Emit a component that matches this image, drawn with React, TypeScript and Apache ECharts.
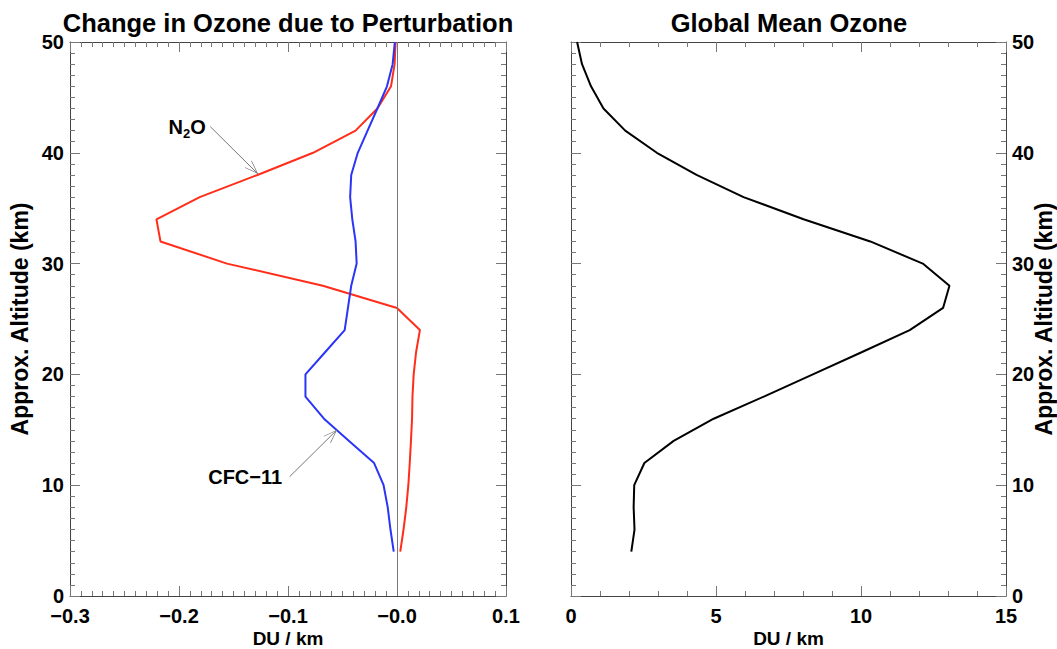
import React, { useEffect, useRef } from 'react';
import * as echarts from 'echarts';

// ---------- data ----------
const altitudes = [4, 6, 8, 10, 12, 14, 16, 18, 20, 22, 24, 26, 28, 30, 32, 34, 36, 38, 40, 42, 44, 46, 48, 50];
const n2oChange = [0.003, 0.006, 0.0085, 0.0104, 0.0117, 0.0128, 0.0138, 0.0142, 0.0153, 0.0175, 0.021, 0.0, -0.068, -0.156, -0.217, -0.2207, -0.181, -0.128, -0.077, -0.038, -0.018, -0.0055, -0.0022, -0.0013];
const cfcChange = [-0.003, -0.006, -0.0085, -0.0123, -0.021, -0.044, -0.067, -0.084, -0.084, -0.066, -0.048, -0.045, -0.042, -0.037, -0.038, -0.041, -0.043, -0.042, -0.036, -0.027, -0.018, -0.0092, -0.004, -0.002];
const globalOzone = [2.08, 2.19, 2.16, 2.18, 2.53, 3.54, 4.92, 6.65, 8.34, 10.02, 11.68, 12.83, 13.05, 12.13, 10.32, 8.02, 5.95, 4.33, 2.96, 1.87, 1.12, 0.69, 0.38, 0.21];

const leftXTickLabels = ['\u22120.3', '\u22120.2', '\u22120.1', '\u22120.0', '0.1'];
const rightXTickLabels = ['0', '5', '10', '15'];
const yTickLabels = ['0', '10', '20', '30', '40', '50'];

const titles = ['Change in Ozone due to Perturbation', 'Global Mean Ozone'];
const xName = 'DU / km';
const yName = 'Approx. Altitude (km)';

// annotation anchors (data coordinates)
const n2oArrowStart = [-0.1713, 42.36];
const n2oArrowEnd = [-0.1275, 38.09];
const cfcArrowStart = [-0.0985, 10.77];
const cfcArrowEnd = [-0.055, 15.0];

const FONT = '"Liberation Sans", Arial, Helvetica, sans-serif';
const AXIS_COLOR = '#444';
const TICK_COLOR = '#777';
const ARROW =
  'path://M0,-14L0.01,-14L0,-14Z M0,0 L-5,14 L-4.3,14.3 L0,1.9 L4.3,14.3 L5,14 Z';

const labelStyle = { fontFamily: FONT, fontWeight: 'bold' as const, fontSize: 20, color: '#000' };
const xLabelStyle = { ...labelStyle, lineHeight: 20 };
const xNameStyle = { ...labelStyle, fontSize: 19, lineHeight: 20 };
const yNameStyle = { fontFamily: FONT, fontWeight: 'bold' as const, fontSize: 23, lineHeight: 22, color: '#000' };

function baseAxis(extra: any) {
  return {
    type: 'value',
    axisLine: { show: true, onZero: false, lineStyle: { color: AXIS_COLOR, width: 1 } },
    axisTick: { show: true, inside: true, length: 10, lineStyle: { color: TICK_COLOR, width: 1 } },
    minorTick: { show: true, length: 5, lineStyle: { color: TICK_COLOR, width: 1 } },
    splitLine: { show: false },
    minorSplitLine: { show: false },
    nameMoveOverlap: false,
    ...extra,
  };
}

export default function App() {
  const ref = useRef<HTMLDivElement>(null);

  useEffect(() => {
    if (!ref.current) return;
    const chart = echarts.init(ref.current, undefined, { renderer: 'svg' });

    const leftFmt = (v: number) => leftXTickLabels[Math.round((v + 0.3) / 0.1)] ?? '';
    const rightFmt = (v: number) => rightXTickLabels[Math.round(v / 5)] ?? '';
    const yFmt = (v: number) => yTickLabels[Math.round(v / 10)] ?? '';

    const minor = (n: number) => ({ show: true, splitNumber: n, length: 5, lineStyle: { color: TICK_COLOR, width: 1 } });

    const option: any = {
      animation: false,
      backgroundColor: '#fff',
      title: [
        {
          text: titles[0],
          left: 283,
          top: 5,
          textAlign: 'center',
          textStyle: { fontFamily: FONT, fontWeight: 'bold', fontSize: 25.5, color: '#000' },
        },
        {
          text: titles[1],
          left: 784,
          top: 5,
          textAlign: 'center',
          textStyle: { fontFamily: FONT, fontWeight: 'bold', fontSize: 25.5, color: '#000' },
        },
      ],
      grid: [
        { left: 70, right: 551, top: 42, bottom: 53, containLabel: false, outerBoundsMode: 'none' },
        { left: 571, right: 51, top: 42, bottom: 53, containLabel: false, outerBoundsMode: 'none' },
      ],
      xAxis: [
        baseAxis({
          gridIndex: 0, min: -0.3, max: 0.1, interval: 0.1, position: 'bottom',
          minorTick: minor(10),
          axisLabel: { ...xLabelStyle, margin: 10, formatter: leftFmt },
          name: xName, nameLocation: 'middle', nameGap: 32,
          nameTextStyle: xNameStyle,
        }),
        baseAxis({
          gridIndex: 0, min: -0.3, max: 0.1, interval: 0.1, position: 'top',
          minorTick: minor(10),
          axisLabel: { show: false },
        }),
        baseAxis({
          gridIndex: 1, min: 0, max: 15, interval: 5, position: 'bottom',
          minorTick: minor(5),
          axisLabel: { ...xLabelStyle, margin: 10, formatter: rightFmt },
          name: xName, nameLocation: 'middle', nameGap: 32,
          nameTextStyle: xNameStyle,
        }),
        baseAxis({
          gridIndex: 1, min: 0, max: 15, interval: 5, position: 'top',
          minorTick: minor(5),
          axisLabel: { show: false },
        }),
      ],
      yAxis: [
        baseAxis({
          gridIndex: 0, min: 0, max: 50, interval: 10, position: 'left',
          minorTick: minor(10),
          axisLabel: { ...labelStyle, margin: 6, formatter: yFmt },
          name: yName, nameLocation: 'middle', nameRotate: 90, nameGap: 39,
          nameTextStyle: yNameStyle,
        }),
        baseAxis({
          gridIndex: 0, min: 0, max: 50, interval: 10, position: 'right',
          minorTick: minor(10),
          axisLabel: { show: false },
        }),
        baseAxis({
          gridIndex: 1, min: 0, max: 50, interval: 10, position: 'left',
          minorTick: minor(10),
          axisLabel: { show: false },
        }),
        baseAxis({
          gridIndex: 1, min: 0, max: 50, interval: 10, position: 'right',
          minorTick: minor(10),
          axisLabel: { ...labelStyle, margin: 6, formatter: yFmt },
          name: yName, nameLocation: 'middle', nameRotate: 90, nameGap: 27,
          nameTextStyle: yNameStyle,
        }),
      ],
      series: [
        {
          name: 'N2O',
          type: 'line',
          xAxisIndex: 0,
          yAxisIndex: 0,
          showSymbol: false,
          symbol: 'none',
          lineStyle: { color: '#ff2d1a', width: 2 },
          data: altitudes.map((a, i) => [n2oChange[i], a]),
          z: 3,
          markLine: {
            silent: true,
            symbol: ['none', 'none'],
            label: { show: false },
            lineStyle: { color: TICK_COLOR, width: 1, type: 'solid' },
            data: [
              { xAxis: 0 },
              [
                { coord: n2oArrowStart, symbol: 'none' },
                { coord: n2oArrowEnd, symbol: ARROW, symbolSize: [10, 28] },
              ],
            ],
          },
          markPoint: {
            silent: true,
            data: [
              {
                coord: n2oArrowStart,
                symbol: 'circle',
                symbolSize: 1,
                itemStyle: { color: 'transparent' },
                label: {
                  show: true,
                  position: 'left',
                  distance: 4,
                  formatter: '{a|N}{s|2}{a|O}',
                  rich: {
                    a: { fontFamily: FONT, fontWeight: 'bold', fontSize: 20, color: '#000', lineHeight: 26, verticalAlign: 'middle' },
                    s: { fontFamily: FONT, fontWeight: 'bold', fontSize: 13, color: '#000', lineHeight: 13, verticalAlign: 'bottom' },
                  },
                },
              },
            ],
          },
        },
        {
          name: 'CFC-11',
          type: 'line',
          xAxisIndex: 0,
          yAxisIndex: 0,
          showSymbol: false,
          symbol: 'none',
          lineStyle: { color: '#2b35f5', width: 2 },
          data: altitudes.map((a, i) => [cfcChange[i], a]),
          z: 3,
          markLine: {
            silent: true,
            symbol: ['none', 'none'],
            label: { show: false },
            lineStyle: { color: TICK_COLOR, width: 1, type: 'solid' },
            data: [
              [
                { coord: cfcArrowStart, symbol: 'none' },
                { coord: cfcArrowEnd, symbol: ARROW, symbolSize: [10, 28] },
              ],
            ],
          },
          markPoint: {
            silent: true,
            data: [
              {
                coord: cfcArrowStart,
                symbol: 'circle',
                symbolSize: 1,
                itemStyle: { color: 'transparent' },
                label: {
                  show: true,
                  position: 'left',
                  distance: 7,
                  formatter: 'CFC\u221211',
                  ...labelStyle,
                },
              },
            ],
          },
        },
        {
          name: 'Global Mean Ozone',
          type: 'line',
          xAxisIndex: 2,
          yAxisIndex: 2,
          showSymbol: false,
          symbol: 'none',
          lineStyle: { color: '#000', width: 2 },
          data: altitudes.map((a, i) => [globalOzone[i], a]),
        },
      ],
    };

    chart.setOption(option);
    return () => chart.dispose();
  }, []);

  return (
    <div
      ref={ref}
      style={{ position: 'fixed', left: 0, top: 0, width: 1057, height: 649, background: '#fff' }}
    />
  );
}
